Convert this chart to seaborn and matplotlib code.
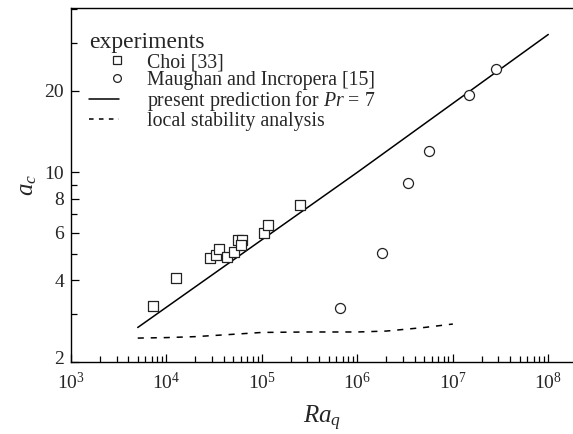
import math
import matplotlib
matplotlib.use("Agg")
import matplotlib.pyplot as plt
import matplotlib.ticker as mticker
import matplotlib.transforms as mtransforms
from matplotlib.lines import Line2D
from matplotlib.legend_handler import HandlerLine2D
import seaborn as sns
import pandas as pd

# ---- data ----
choi_ra = [7.2e3, 1.26e4, 2.85e4, 3.3e4, 3.55e4, 4.27e4, 5.13e4, 5.57e4, 6.2e4, 6.1e4, 1.04e5, 1.16e5, 2.5e5]
choi_ac = [3.22, 4.09, 4.83, 4.94, 5.21, 4.89, 5.08, 5.61, 5.64, 5.40, 5.97, 6.37, 7.59]

maughan_ra = [6.56e5, 1.82e6, 3.38e6, 5.6e6, 1.46e7, 2.8e7]
maughan_ac = [3.17, 5.03, 9.12, 12.0, 19.3, 24.1]

pred_ra = [5e3, 1e6, 1e8]
pred_ac = [2.68, 10.0, 32.2]

local_ra = [5e3, 1e4, 2e4, 5e4, 1e5, 3e5, 1e6, 2e6, 5e6, 1e7]
local_ac = [2.45, 2.46, 2.48, 2.53, 2.57, 2.58, 2.58, 2.60, 2.68, 2.76]

x_major = [1e3, 1e4, 1e5, 1e6, 1e7, 1e8]
y_major = [2, 4, 6, 8, 10, 20]
y_minor = [3, 5, 7, 9, 30, 40]

sns.set_style("ticks")
plt.rcParams["font.family"] = ["Liberation Serif", "DejaVu Serif"]
plt.rcParams["mathtext.fontset"] = "custom"
plt.rcParams["mathtext.rm"] = "Liberation Serif"
plt.rcParams["mathtext.it"] = "Liberation Serif:italic"
plt.rcParams["mathtext.bf"] = "Liberation Serif:bold"

fig = plt.figure(figsize=(5.73, 4.34), dpi=100)
ax = fig.add_axes([71 / 573, (434 - 362) / 434, 1 - 71 / 573, (362 - 8) / 434])

choi = pd.DataFrame({"Ra": choi_ra, "ac": choi_ac})
maug = pd.DataFrame({"Ra": maughan_ra, "ac": maughan_ac})
pred = pd.DataFrame({"Ra": pred_ra, "ac": pred_ac})
loc = pd.DataFrame({"Ra": local_ra, "ac": local_ac})

sns.lineplot(data=pred, x="Ra", y="ac", ax=ax, color="black", lw=1.1, sort=False)
sns.lineplot(data=loc, x="Ra", y="ac", ax=ax, color="black", lw=1.1, sort=False)
ax.lines[-1].set_dashes((4, 4.5))
sns.scatterplot(data=choi, x="Ra", y="ac", ax=ax, marker="s", s=45,
                facecolor="white", edgecolor="#222222", linewidth=0.9, zorder=3)
sns.scatterplot(data=maug, x="Ra", y="ac", ax=ax, marker="o", s=52,
                facecolor="white", edgecolor="#222222", linewidth=0.9, zorder=3)

ax.set_xscale("log")
ax.set_yscale("log")
ax.set_xlim(1e3, 10 ** (3 + (573 - 71) / 95.46))
ax.set_ylim(2, 40.3)

ax.xaxis.set_major_locator(mticker.FixedLocator(x_major))
ax.xaxis.set_major_formatter(mticker.FuncFormatter(
    lambda v, p: r"$\mathdefault{10^{%d}}$" % round(math.log10(v))))
ax.xaxis.set_minor_locator(mticker.LogLocator(base=10, subs=range(2, 10), numticks=20))
ax.xaxis.set_minor_formatter(mticker.NullFormatter())

ax.yaxis.set_major_locator(mticker.FixedLocator(y_major))
ax.yaxis.set_major_formatter(mticker.FixedFormatter([str(v) for v in y_major]))
ax.yaxis.set_minor_locator(mticker.FixedLocator(y_minor))
ax.yaxis.set_minor_formatter(mticker.NullFormatter())

ax.tick_params(which="both", direction="in", color="black", width=0.9,
               labelsize=14, top=False, right=False)
ax.tick_params(axis="x", which="major", pad=7)
ax.tick_params(axis="y", which="major", pad=5)
ax.tick_params(which="major", length=6)
ax.tick_params(which="minor", length=4)
for side in ["left", "bottom", "top"]:
    ax.spines[side].set_linewidth(1.0)
    ax.spines[side].set_color("black")
ax.spines["right"].set_visible(False)

# lift the "2" label slightly, as in the reference
lab2 = ax.yaxis.get_major_ticks()[0].label1
lab2.set_transform(lab2.get_transform() +
                   mtransforms.ScaledTranslation(0, 5 / 100, fig.dpi_scale_trans))

ax.set_xlabel(r"$Ra_q$", fontsize=18, labelpad=8)
ax.set_ylabel(r"$a_c$", fontsize=18, labelpad=4)


class RightMarker(HandlerLine2D):
    """Place a single legend marker near the right end of the handle."""
    def create_artists(self, legend, orig_handle, xdescent, ydescent,
                       width, height, fontsize, trans):
        arts = super().create_artists(legend, orig_handle, xdescent, ydescent,
                                      width, height, fontsize, trans)
        for a in arts:
            a.set_markevery([1])
        return arts


h_sq = Line2D([], [], ls="none", marker="s", ms=5.2, mfc="white", mec="#222222", mew=0.9)
h_ci = Line2D([], [], ls="none", marker="o", ms=5.6, mfc="white", mec="#222222", mew=0.9)
h_so = Line2D([], [], color="black", lw=1.1)
h_da = Line2D([], [], color="black", lw=1.1, dashes=(3, 3.5))
handles = [h_sq, h_ci, h_so, h_da]
labels = ["Choi [33]", "Maughan and Incropera [15]",
          r"present prediction for $Pr$ = 7", "local stability analysis"]
rm = RightMarker(numpoints=2, marker_pad=0.1)
leg = ax.legend(handles, labels, title="experiments", loc="upper left",
                bbox_to_anchor=(0.036, 0.931), frameon=False, fontsize=14.3,
                title_fontsize=17, handlelength=1.52, handletextpad=1.42,
                labelspacing=-0.05, borderaxespad=0.0, borderpad=0.0,
                alignment="left", handler_map={h_sq: rm, h_ci: rm})
leg._legend_box.sep = 0

fig.savefig("out.png", dpi=100)
